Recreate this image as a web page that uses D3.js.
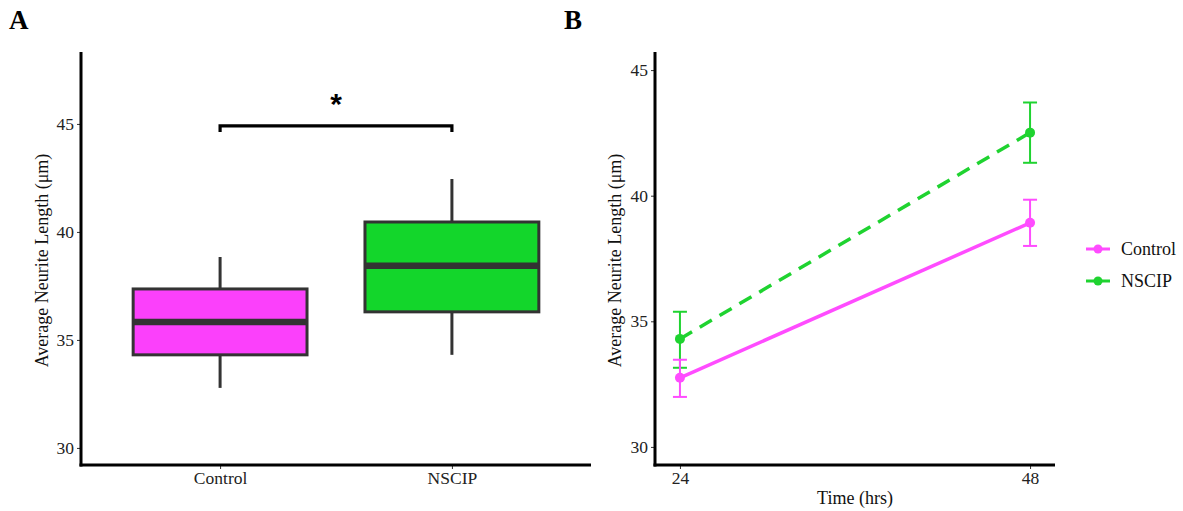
<!DOCTYPE html>
<html>
<head>
<meta charset="utf-8">
<script src="https://cdn.jsdelivr.net/npm/d3@7"></script>
<style>
  html, body { margin: 0; padding: 0; background: #fff; }
  svg { display: block; font-family: "Liberation Serif", "Times New Roman", serif; }
</style>
</head>
<body>
<svg id="chart" width="1183" height="511"></svg>
<script>
// ---- Panel A data (box plot summary) ----
const groups = ["Control", "NSCIP"];
const boxLower = [32.78, 34.31];
const boxQ1 = [34.31, 36.30];
const boxMedian = [35.83, 38.43];
const boxQ3 = [37.36, 40.46];
const boxUpper = [38.84, 42.45];
const boxFill = ["#FB40FB", "#13D62B"];
const ticksA = [30, 35, 40, 45];
const sigY = 45;
const sigLabel = "*";

// ---- Panel B data (means with error bars) ----
const times = [24, 48];
const seriesNames = ["Control", "NSCIP"];
const controlMean = [32.75, 38.92];
const controlLow = [31.99, 38.00];
const controlHigh = [33.47, 39.84];
const nscipMean = [34.30, 42.51];
const nscipLow = [33.15, 41.31];
const nscipHigh = [35.38, 43.71];
const lineColors = ["#FF4CFF", "#1FD330"];
const ticksB = [30, 35, 40, 45];

const yTitle = "Average Neurite Length (\u03bcm)";
const xTitleB = "Time (hrs)";

const TICK_FS = 17.5;
const TITLE_FS = 18;

const svg = d3.select("#chart");

// ================= Panel A =================
const A = { left: 81, right: 591, top: 52, bottom: 465 };
const yA = d3.scaleLinear().domain([29.21, 48.33]).range([A.bottom, A.top]);
// ggplot discrete: centers at positions 1,2 within [0.4,2.6]
const xAc = d3.scaleLinear().domain([0.4, 2.6]).range([A.left, A.right]);
const center = i => xAc(i + 1);
const unit = xAc(1) - xAc(0);
const boxW = 0.75 * unit;

const gA = svg.append("g");

groups.forEach((g, i) => {
  gA.append("line").attr("x1", center(i)).attr("x2", center(i))
    .attr("y1", yA(boxUpper[i])).attr("y2", yA(boxQ3[i]))
    .attr("stroke", "#333").attr("stroke-width", 3);
  gA.append("line").attr("x1", center(i)).attr("x2", center(i))
    .attr("y1", yA(boxQ1[i])).attr("y2", yA(boxLower[i]))
    .attr("stroke", "#333").attr("stroke-width", 3);
  gA.append("rect")
    .attr("x", center(i) - boxW / 2).attr("width", boxW)
    .attr("y", yA(boxQ3[i])).attr("height", yA(boxQ1[i]) - yA(boxQ3[i]))
    .attr("fill", boxFill[i]).attr("stroke", "#333").attr("stroke-width", 3);
  gA.append("line")
    .attr("x1", center(i) - boxW / 2).attr("x2", center(i) + boxW / 2)
    .attr("y1", yA(boxMedian[i])).attr("y2", yA(boxMedian[i]))
    .attr("stroke", "#333").attr("stroke-width", 6.5);
});

// significance bracket
const by = yA(sigY) + 2;
gA.append("path")
  .attr("d", `M${center(0)},${by + 6} L${center(0)},${by} L${center(1)},${by} L${center(1)},${by + 6}`)
  .attr("fill", "none").attr("stroke", "#000").attr("stroke-width", 3.2);
gA.append("text")
  .attr("x", (center(0) + center(1)) / 2).attr("y", by - 12)
  .attr("text-anchor", "middle")
  .attr("font-family", "Liberation Sans, Arial, sans-serif")
  .attr("font-size", 30).attr("font-weight", "bold")
  .text(sigLabel);

function styleAxis(g) {
  g.attr("font-family", "Liberation Serif").attr("font-size", TICK_FS);
  g.select(".domain").remove();
  g.selectAll("text").attr("font-size", TICK_FS).attr("fill", "#222").attr("font-family", "Liberation Serif");
  g.selectAll(".tick line").attr("stroke", "#333");
}

const axA = d3.axisLeft(yA).tickValues(ticksA).tickSize(4).tickPadding(3);
styleAxis(gA.append("g").attr("transform", `translate(${A.left},0)`).call(axA));

const axAx = d3.axisBottom(xAc).tickValues([1, 2]).tickFormat((d) => groups[d - 1]).tickSize(4).tickPadding(3);
styleAxis(gA.append("g").attr("transform", `translate(0,${A.bottom})`).call(axAx));

gA.append("line").attr("x1", A.left).attr("x2", A.left).attr("y1", A.top).attr("y2", A.bottom + 1.5)
  .attr("stroke", "#000").attr("stroke-width", 3);
gA.append("line").attr("x1", A.left - 1.5).attr("x2", A.right).attr("y1", A.bottom).attr("y2", A.bottom)
  .attr("stroke", "#000").attr("stroke-width", 3);

gA.append("text").attr("transform", `translate(48,${(A.top + A.bottom) / 2 + 2}) rotate(-90)`)
  .attr("text-anchor", "middle").attr("font-size", TITLE_FS).attr("fill", "#111").text(yTitle);

svg.append("text").attr("x", 9).attr("y", 29).attr("font-size", 27).attr("font-weight", "bold").text("A");

// ================= Panel B =================
const B = { left: 655, right: 1055, top: 52, bottom: 465 };
const yB = d3.scaleLinear().domain([29.28, 45.72]).range([B.bottom, B.top]);
const xB = d3.scaleLinear().domain([22.29, 49.71]).range([B.left, B.right]);
const gB = svg.append("g");

const seriesData = [
  { name: seriesNames[0], mean: controlMean, low: controlLow, high: controlHigh, color: lineColors[0], dash: null },
  { name: seriesNames[1], mean: nscipMean, low: nscipLow, high: nscipHigh, color: lineColors[1], dash: "14,9" }
];

const line = d3.line().x((d, i) => xB(times[i])).y(d => yB(d));
const capW = 7;

[1, 0].forEach(k => {
  const s = seriesData[k];
  s.mean.forEach((m, i) => {
    const x = xB(times[i]);
    gB.append("line").attr("x1", x).attr("x2", x).attr("y1", yB(s.low[i])).attr("y2", yB(s.high[i]))
      .attr("stroke", s.color).attr("stroke-width", 2);
    [s.low[i], s.high[i]].forEach(v => {
      gB.append("line").attr("x1", x - capW).attr("x2", x + capW).attr("y1", yB(v)).attr("y2", yB(v))
        .attr("stroke", s.color).attr("stroke-width", 2);
    });
  });
  gB.append("path").datum(s.mean).attr("d", line).attr("fill", "none")
    .attr("stroke", s.color).attr("stroke-width", 3.5)
    .attr("stroke-dasharray", s.dash);
  s.mean.forEach((m, i) => {
    gB.append("circle").attr("cx", xB(times[i])).attr("cy", yB(m)).attr("r", 5).attr("fill", s.color);
  });
});

const axB = d3.axisLeft(yB).tickValues(ticksB).tickSize(4).tickPadding(3);
styleAxis(gB.append("g").attr("transform", `translate(${B.left},0)`).call(axB));

const axBx = d3.axisBottom(xB).tickValues(times).tickSize(4).tickPadding(3);
styleAxis(gB.append("g").attr("transform", `translate(0,${B.bottom})`).call(axBx));

gB.append("line").attr("x1", B.left).attr("x2", B.left).attr("y1", B.top).attr("y2", B.bottom + 1.5)
  .attr("stroke", "#000").attr("stroke-width", 3);
gB.append("line").attr("x1", B.left - 1.5).attr("x2", B.right).attr("y1", B.bottom).attr("y2", B.bottom)
  .attr("stroke", "#000").attr("stroke-width", 3);

gB.append("text").attr("transform", `translate(621,${(B.top + B.bottom) / 2 + 2}) rotate(-90)`)
  .attr("text-anchor", "middle").attr("font-size", TITLE_FS).attr("fill", "#111").text(yTitle);
gB.append("text").attr("x", (B.left + B.right) / 2).attr("y", 504)
  .attr("text-anchor", "middle").attr("font-size", TITLE_FS).attr("fill", "#111").text(xTitleB);

// legend
const leg = gB.append("g");
seriesData.forEach((s, k) => {
  const ly = 249 + k * 32;
  leg.append("line").attr("x1", 1086).attr("x2", 1110).attr("y1", ly).attr("y2", ly)
    .attr("stroke", s.color).attr("stroke-width", 3);
  leg.append("circle").attr("cx", 1098).attr("cy", ly).attr("r", 4.5).attr("fill", s.color);
  leg.append("text").attr("x", 1121).attr("y", ly + 6).attr("font-size", TITLE_FS).attr("fill", "#111").text(s.name);
});

svg.append("text").attr("x", 564).attr("y", 29).attr("font-size", 27).attr("font-weight", "bold").text("B");
</script>
</body>
</html>
